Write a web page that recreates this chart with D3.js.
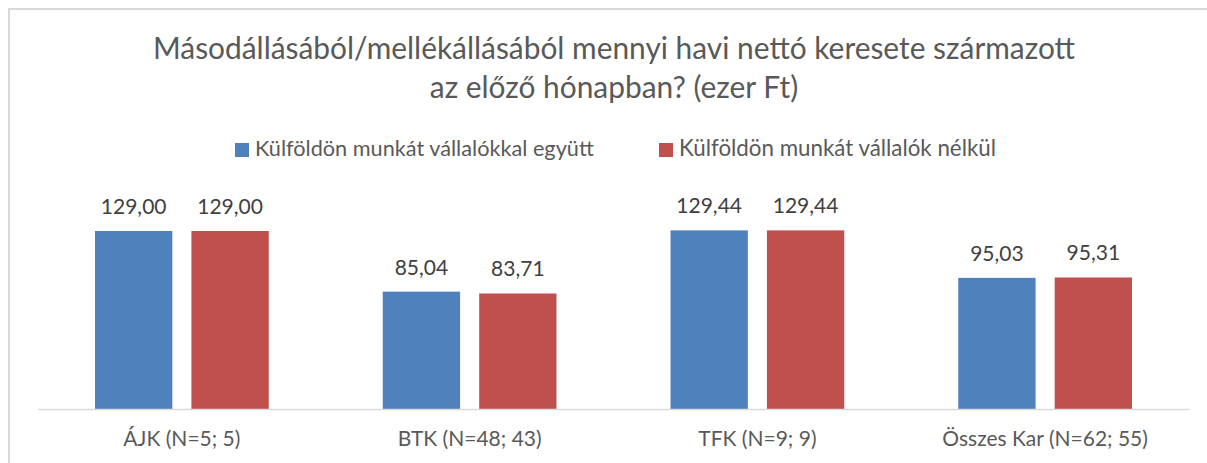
<!DOCTYPE html>
<html>
<head>
<meta charset="utf-8">
<script src="https://cdn.jsdelivr.net/npm/d3@7"></script>
<style>
  html, body { margin: 0; padding: 0; background: #fff; }
  svg { display: block; }
  text { font-family: Lato, "Open Sans", sans-serif; }
</style>
</head>
<body>
<svg id="chart" width="1207" height="463"></svg>
<script>
// Categories (faculties) and the two series of average net earnings (thousand Ft)
const categories = ["ÁJK (N=5; 5)", "BTK (N=48; 43)", "TFK (N=9; 9)", "Összes Kar (N=62; 55)"];
const seriesNames = ["Külföldön munkát vállalókkal együtt", "Külföldön munkát vállalók nélkül"];
const withAbroad = [129.00, 85.04, 129.44, 95.03];
const withoutAbroad = [129.00, 83.71, 129.44, 95.31];
const titleLines = ["Másodállásából/mellékállásából mennyi havi nettó keresete származott", "az előző hónapban? (ezer Ft)"];

const colors = ["#4f81bd", "#c0504d"];
const seriesValues = [withAbroad, withoutAbroad];

const svg = d3.select("#chart");
const W = 1207, H = 463;

// chart frame
svg.append("rect")
  .attr("x", 9).attr("y", 9)
  .attr("width", W + 20).attr("height", H + 20)
  .attr("fill", "#fff")
  .attr("stroke", "#d9d9d9")
  .attr("stroke-width", 2);

// fit a text element to a target width by adjusting its font size
function fitWidth(sel, target) {
  const node = sel.node();
  const fs = parseFloat(sel.attr("font-size"));
  const w = node.getComputedTextLength();
  if (w > 0) sel.attr("font-size", (fs * target / w).toFixed(2));
}

// title
const titleY = [59, 98];
let titleSize = 24;
titleLines.forEach((t, i) => {
  const el = svg.append("text")
    .attr("x", 614).attr("y", titleY[i])
    .attr("text-anchor", "middle")
    .attr("font-size", titleSize)
    .attr("fill", "#595959")
    .text(t);
  if (i === 0) { fitWidth(el, 922); titleSize = el.attr("font-size"); }
});

// scales
const plotLeft = 38, plotRight = 1189, baseY = 409;
const x0 = d3.scaleBand().domain(categories).range([plotLeft, plotRight]).padding(0);
const groupPad = 57;
const x1 = d3.scaleBand().domain(seriesNames)
  .range([groupPad, x0.bandwidth() - groupPad])
  .paddingInner(0.198).paddingOuter(0);
const y = d3.scaleLinear().domain([0, 140]).range([baseY, baseY - 193.2]);

// legend
const legendX = [235, 659];
seriesNames.forEach((name, i) => {
  const g = svg.append("g").attr("transform", `translate(${legendX[i]},143)`);
  g.append("rect").attr("width", 14).attr("height", 14).attr("fill", colors[i]);
  const t = g.append("text")
    .attr("x", 20).attr("y", 13)
    .attr("font-size", 18)
    .attr("fill", "#595959")
    .text(name);
  fitWidth(t, i === 0 ? 339 : 317);
});

// bars and value labels
const groups = svg.append("g").selectAll("g")
  .data(categories)
  .join("g")
  .attr("transform", d => `translate(${x0(d)},0)`);

const fmt = v => d3.format(".2f")(v).replace(".", ",");

groups.each(function(cat, ci) {
  const g = d3.select(this);
  seriesNames.forEach((s, si) => {
    const v = seriesValues[si][ci];
    g.append("rect")
      .attr("x", x1(s))
      .attr("y", y(v))
      .attr("width", x1.bandwidth())
      .attr("height", baseY - y(v))
      .attr("fill", colors[si]);
    g.append("text")
      .attr("class", "val")
      .attr("x", x1(s) + x1.bandwidth() / 2)
      .attr("y", y(v) - 17)
      .attr("text-anchor", "middle")
      .attr("font-size", 21)
      .attr("fill", "#404040")
      .text(fmt(v));
  });
});

// axis baseline and category labels
const axis = svg.append("g")
  .attr("transform", `translate(0,${baseY})`)
  .call(d3.axisBottom(x0).tickSize(0).tickPadding(0));
axis.attr("font-size", null).attr("font-family", null);
axis.select(".domain").attr("stroke", "#d9d9d9").attr("stroke-width", 1.5);
axis.selectAll(".tick text")
  .attr("dy", 0).attr("y", 37)
  .style("font-size", "21px")
  .style("font-family", "Lato, 'Open Sans', sans-serif")
  .attr("fill", "#595959");
</script>
</body>
</html>
